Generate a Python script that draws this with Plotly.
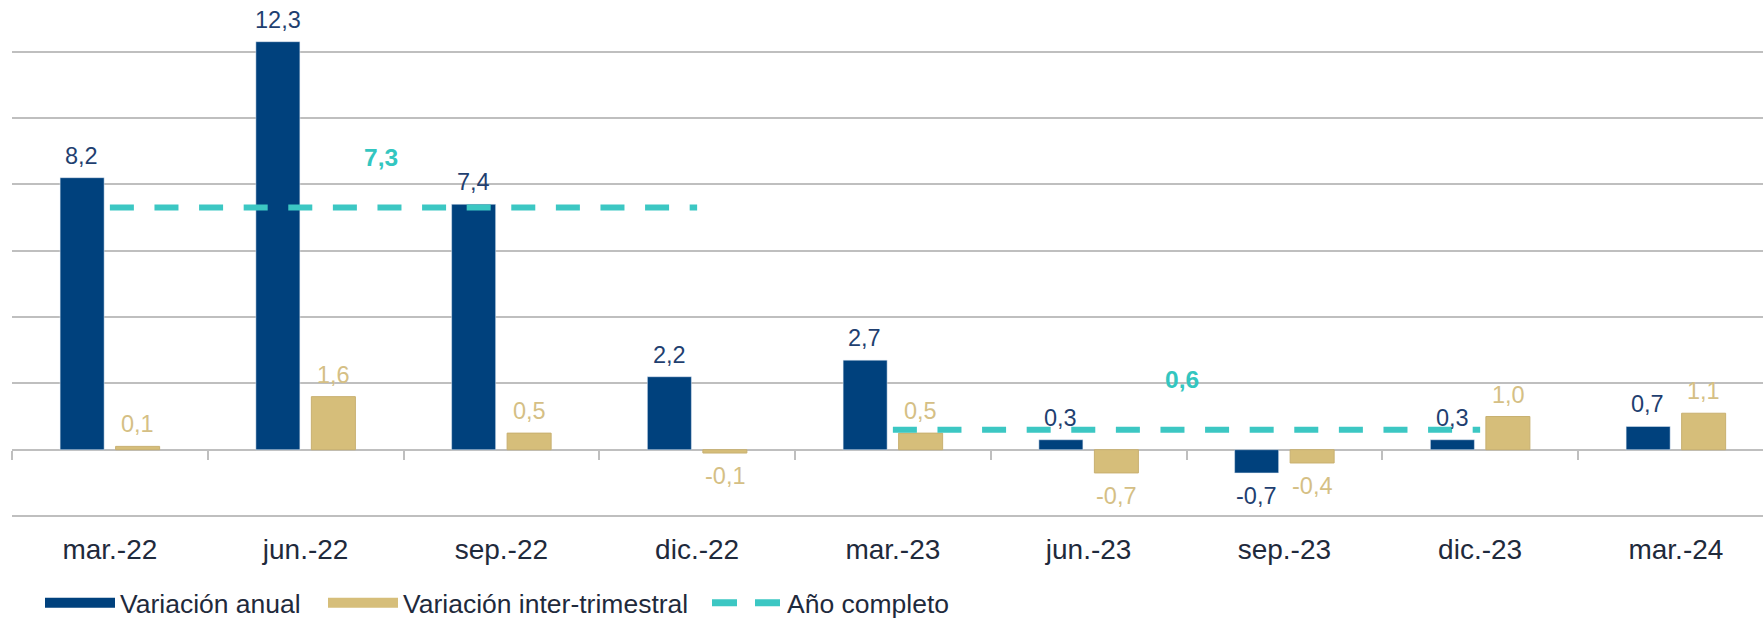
import plotly.graph_objects as go

categories = ["mar.-22", "jun.-22", "sep.-22", "dic.-22", "mar.-23", "jun.-23", "sep.-23", "dic.-23", "mar.-24"]
variacion_anual = [8.2, 12.3, 7.4, 2.2, 2.7, 0.3, -0.7, 0.3, 0.7]
variacion_inter = [0.1, 1.6, 0.5, -0.1, 0.5, -0.7, -0.4, 1.0, 1.1]
anio_2022_cats = ["mar.-22", "jun.-22", "sep.-22", "dic.-22"]
anio_2022_val = 7.3
anio_2023_cats = ["mar.-23", "jun.-23", "sep.-23", "dic.-23"]
anio_2023_val = 0.6

NAVY = "#00417D"
TAN = "#D6BE7A"
TEAL = "#3CC7C3"
NAVY_TXT = "#1F3F70"
TAN_TXT = "#D5BF85"
TEAL_TXT = "#33C6C0"
GRID = "#BFBFBF"
TXT = "#1F2A3C"
FONT = "Liberation Sans, Arial, sans-serif"

fig = go.Figure()

fig.add_trace(go.Bar(x=categories, y=variacion_anual, marker_color=NAVY,
                     name="Variación anual", showlegend=False, hoverinfo="skip"))
fig.add_trace(go.Bar(x=categories, y=variacion_inter, marker_color=TAN,
                     marker_line=dict(color="#C8B070", width=1),
                     name="Variación inter-trimestral", showlegend=False, hoverinfo="skip"))

line_style = dict(color=TEAL, width=6, dash="24px,20.6px")
fig.add_trace(go.Scatter(x=anio_2022_cats, y=[anio_2022_val] * len(anio_2022_cats), mode="lines",
                         line=line_style, showlegend=False, hoverinfo="skip"))
fig.add_trace(go.Scatter(x=anio_2023_cats, y=[anio_2023_val] * len(anio_2023_cats), mode="lines",
                         line=line_style, showlegend=False, hoverinfo="skip"))

# legend entries (one legend per item so spacing can match)
fig.add_trace(go.Scatter(x=[None], y=[None], mode="lines", name="Variación anual",
                         line=dict(color=NAVY, width=15), legend="legend"))
fig.add_trace(go.Scatter(x=[None], y=[None], mode="lines", name="Variación inter-trimestral",
                         line=dict(color=TAN, width=15), legend="legend2"))
fig.add_trace(go.Scatter(x=[None], y=[None], mode="lines", name="Año completo",
                         line=dict(color=TEAL, width=7, dash="25px,18px"), legend="legend3"))

# axis used only to draw the category tick marks on the zero line
fig.add_trace(go.Scatter(x=categories, y=[None] * len(categories), xaxis="x2",
                         mode="markers", showlegend=False, hoverinfo="skip"))

annotations = []
def fmt(v):
    return f"{v:.1f}".replace(".", ",")

for vals, shift, col in [(variacion_anual, -28, NAVY_TXT), (variacion_inter, 28, TAN_TXT)]:
    for c, v in zip(categories, vals):
        annotations.append(dict(x=c, y=v, xref="x", yref="y", text=fmt(v), showarrow=False,
                                xshift=shift, yshift=22 if v >= 0 else -23,
                                yanchor="middle", xanchor="center",
                                font=dict(family=FONT, size=23.5, color=col)))

for cats, val, xs in [(anio_2022_cats, anio_2022_val, -23), (anio_2023_cats, anio_2023_val, -5)]:
    mid = (categories.index(cats[0]) + categories.index(cats[-1])) / 2
    annotations.append(dict(x=mid, y=val, xref="x", yref="y", text="<b>" + fmt(val) + "</b>",
                            showarrow=False, xshift=xs, yshift=50, yanchor="middle",
                            font=dict(family=FONT, size=24.5, color=TEAL_TXT)))

def legend_at(xpx):
    return dict(orientation="h", xref="container", yref="container",
                x=xpx / 1763, y=16 / 619, xanchor="left", yanchor="middle",
                itemwidth=70, font=dict(family=FONT, size=26.5, color=TXT),
                bgcolor="rgba(0,0,0,0)")

ymin, ymax = -2.3, 13.557
fig.update_layout(
    width=1763, height=619,
    margin=dict(l=12, r=0, t=0, b=93),
    paper_bgcolor="white", plot_bgcolor="white",
    barmode="group", bargap=0.433, bargroupgap=0.207,
    font=dict(family=FONT, color=TXT),
    annotations=annotations,
    xaxis=dict(type="category", categoryarray=categories, range=[-0.5, 8.445],
               showgrid=False, showline=False, zeroline=False, ticks="",
               ticklabelstandoff=4,
               tickfont=dict(family=FONT, size=28, color=TXT)),
    xaxis2=dict(type="category", categoryarray=categories, overlaying="x", matches="x",
                anchor="free", position=(0 - ymin) / (ymax - ymin), side="bottom",
                ticks="outside", tickson="boundaries", ticklen=9, tickwidth=1.5,
                tickcolor=GRID, showticklabels=False, showgrid=False, showline=False,
                zeroline=False),
    yaxis=dict(range=[ymin, ymax], dtick=2, tick0=0, showticklabels=False,
               showgrid=True, gridcolor=GRID, gridwidth=2,
               zeroline=True, zerolinecolor=GRID, zerolinewidth=2, showline=False),
    legend=legend_at(40),
    legend2=legend_at(323),
    legend3=legend_at(707),
)

fig.write_html("out.html", config={"displayModeBar": False},
               post_script="document.body.style.margin='0px';")
